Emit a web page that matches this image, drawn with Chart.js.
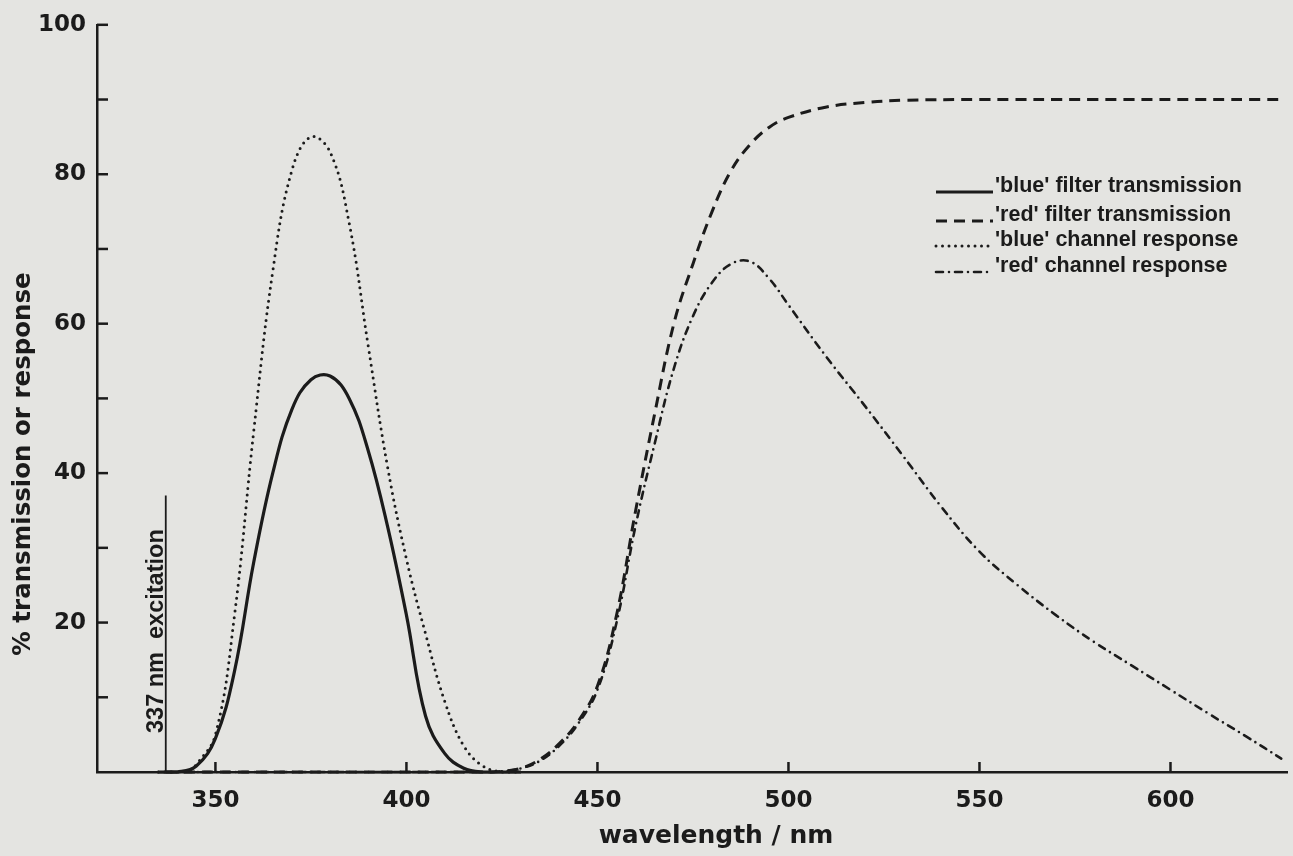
<!DOCTYPE html>
<html>
<head>
<meta charset="utf-8">
<title>Filter transmission and channel response</title>
<script src="https://cdn.jsdelivr.net/npm/chart.js@4.4.1/dist/chart.umd.min.js"></script>
<style>
  html, body { margin: 0; padding: 0; background: #e4e4e1; }
  #wrap { width: 1293px; height: 856px; }
</style>
</head>
<body>
<div id="wrap"><canvas id="spectra" width="1293" height="856"></canvas></div>
<script>
// 'blue' filter transmission (%)
const blueFilterNm  = [335, 340, 345, 350, 355, 360, 365, 370, 375, 380, 385, 390, 395, 400, 405, 410, 415, 420, 430];
const blueFilterPct = [0, 0, 0.8, 4.5, 13.5, 28, 40, 48.5, 52.5, 53, 50, 43, 33, 21, 7.5, 2.5, 0.5, 0, 0];

// 'red' filter transmission (%)
const redFilterNm  = [337, 420, 425, 430, 435, 440, 445, 450, 455, 460, 465, 470, 475, 480, 485, 490, 495, 500, 510, 520, 530, 550, 580, 629];
const redFilterPct = [0, 0, 0.1, 0.5, 1.7, 3.8, 6.8, 11.5, 21, 35, 48, 60, 68, 75, 80.5, 84, 86.3, 87.6, 89, 89.6, 89.9, 90, 90, 90];

// 'blue' channel response (%)
const blueChannelNm  = [335, 340, 343, 345, 350, 355, 360, 365, 370, 375, 380, 385, 390, 395, 400, 405, 410, 415, 420, 425, 430];
const blueChannelPct = [0, 0, 0.2, 1, 5, 21, 45.5, 67, 80.5, 85, 83, 73.5, 57, 41, 28.5, 18.5, 9.5, 3.5, 0.8, 0, 0];

// 'red' channel response (%)
const redChannelNm  = [337, 420, 425, 430, 435, 440, 445, 450, 455, 460, 465, 470, 475, 480, 485, 490, 495, 500, 510, 520, 530, 540, 550, 560, 570, 580, 590, 600, 610, 620, 629];
const redChannelPct = [0, 0, 0.1, 0.5, 1.5, 3.5, 6.5, 11, 20, 33, 44, 54, 61, 65.5, 68, 68.3, 66, 62.5, 55.5, 49, 42.3, 35.5, 29.5, 25, 21, 17.4, 14.2, 11, 7.8, 4.7, 1.8];

// laser line
const excitationNm = 337;
const excitationTop = 37;

const xTicks = [350, 400, 450, 500, 550, 600];
const yTicks = [20, 40, 60, 80, 100];
const yMinorTicks = [10, 30, 50, 70, 90];

const ink = '#1b1b1b';
const paperColor = '#e4e4e1';

function points(nm, pct) {
	return nm.map((v, i) => ({ x: v, y: pct[i] }));
}

function curve(label, nm, pct, dash, cap, width) {
	return {
		label: label,
		data: points(nm, pct),
		borderColor: ink,
		borderWidth: width,
		borderDash: dash,
		borderCapStyle: cap,
		borderJoinStyle: 'round',
		pointRadius: 0,
		fill: false,
		tension: 0.4,
		clip: false,
	};
}

const datasets = [
	curve("'blue' filter transmission", blueFilterNm, blueFilterPct, [], 'butt', 3.2),
	curve("'red' filter transmission", redFilterNm, redFilterPct, [11, 7], 'butt', 3),
	curve("'blue' channel response", blueChannelNm, blueChannelPct, [0, 6.5], 'round', 3),
	curve("'red' channel response", redChannelNm, redChannelPct, [7, 6, 0, 6], 'round', 2.6),
	{
		label: 'excitation',
		data: [{ x: excitationNm, y: 0 }, { x: excitationNm, y: excitationTop }],
		borderColor: ink,
		borderWidth: 1.8,
		pointRadius: 0,
		clip: false,
	},
];

// paper background
const paper = {
	id: 'paper',
	beforeDraw(chart) {
		const ctx = chart.ctx;
		ctx.save();
		ctx.fillStyle = paperColor;
		ctx.fillRect(0, 0, chart.width, chart.height);
		ctx.restore();
	}
};

// inward tick marks, axis titles, laser label and key
const decor = {
	id: 'decor',
	afterDraw(chart) {
		const { ctx, chartArea: area, scales: { x, y } } = chart;
		ctx.save();
		ctx.strokeStyle = ink;
		ctx.fillStyle = ink;
		ctx.lineWidth = 2.5;
		ctx.lineCap = 'butt';
		ctx.setLineDash([]);

		xTicks.forEach(v => {
			const px = x.getPixelForValue(v);
			ctx.beginPath();
			ctx.moveTo(px, area.bottom);
			ctx.lineTo(px, area.bottom - 10);
			ctx.stroke();
		});
		yTicks.concat(yMinorTicks).forEach(v => {
			const py = y.getPixelForValue(v);
			ctx.beginPath();
			ctx.moveTo(area.left, py);
			ctx.lineTo(area.left + 11, py);
			ctx.stroke();
		});

		// axis titles
		ctx.font = 'bold 25px "DejaVu Sans"';
		ctx.textAlign = 'center';
		ctx.textBaseline = 'middle';
		ctx.fillText('wavelength / nm', 716, 836);

		ctx.save();
		ctx.translate(24, 464);
		ctx.rotate(-Math.PI / 2);
		ctx.font = 'bold 24.5px "DejaVu Sans"';
		ctx.fillText('% transmission or response', 0, 0);
		ctx.restore();

		// label up the side of the laser line
		ctx.save();
		ctx.translate(x.getPixelForValue(excitationNm) - 3, y.getPixelForValue(0) - 39);
		ctx.rotate(-Math.PI / 2);
		ctx.font = 'bold 23.5px "Liberation Sans"';
		ctx.textAlign = 'left';
		ctx.textBaseline = 'alphabetic';
		ctx.fillText('337 nm  excitation', 0, 0);
		ctx.restore();

		// key
		const rows = [192, 221, 246, 272];
		ctx.font = 'bold 21.5px "Liberation Sans"';
		ctx.textAlign = 'left';
		ctx.textBaseline = 'alphabetic';
		chart.data.datasets.slice(0, 4).forEach((ds, i) => {
			const by = rows[i];
			ctx.save();
			ctx.lineWidth = ds.borderWidth;
			ctx.lineCap = ds.borderCapStyle;
			ctx.setLineDash(ds.borderDash);
			ctx.beginPath();
			ctx.moveTo(936, by);
			ctx.lineTo(993, by);
			ctx.stroke();
			ctx.restore();
			ctx.fillText(ds.label, 995, by);
		});
		ctx.restore();
	}
};

new Chart(document.getElementById('spectra'), {
	type: 'line',
	data: { datasets: datasets },
	options: {
		responsive: false,
		animation: false,
		devicePixelRatio: 1,
		layout: { padding: { left: 0, top: 17, right: 6, bottom: 0 } },
		plugins: {
			legend: { display: false },
			tooltip: { enabled: false },
		},
		scales: {
			x: {
				type: 'linear',
				min: 319,
				max: 630.5,
				afterBuildTicks: scale => { scale.ticks = xTicks.map(v => ({ value: v })); },
				afterFit: scale => { scale.height = 84; },
				grid: { display: false, drawTicks: false },
				border: { display: true, color: ink, width: 2.5 },
				ticks: {
					padding: 15,
					color: ink,
					maxRotation: 0,
					autoSkip: false,
					font: { family: 'DejaVu Sans', weight: 'bold', size: 23 },
				},
			},
			y: {
				min: 0,
				max: 100,
				afterBuildTicks: scale => { scale.ticks = yTicks.map(v => ({ value: v })); },
				afterFit: scale => { scale.width = 97; },
				grid: { display: false, drawTicks: false },
				border: { display: true, color: ink, width: 2.5 },
				ticks: {
					padding: 11,
					color: ink,
					autoSkip: false,
					font: { family: 'DejaVu Sans', weight: 'bold', size: 23 },
				},
			},
		},
	},
	plugins: [paper, decor],
});
</script>
</body>
</html>
